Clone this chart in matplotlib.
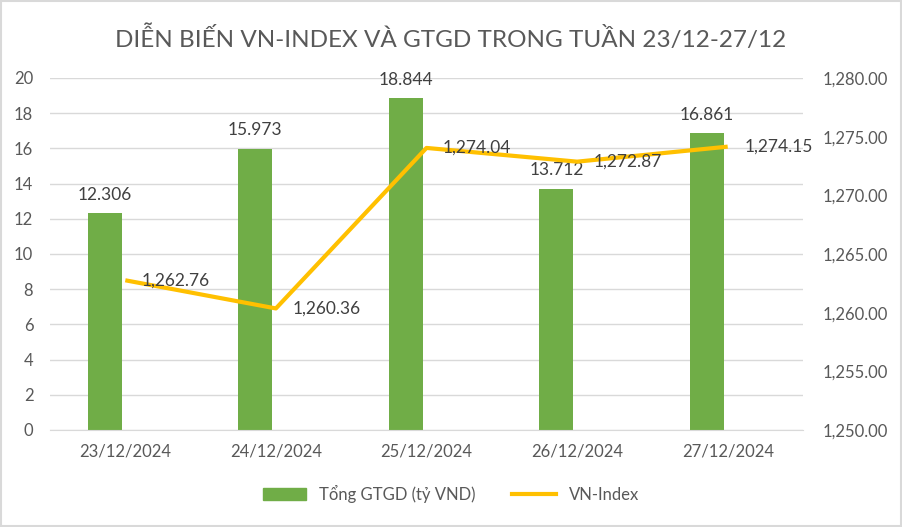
import matplotlib
matplotlib.use("Agg")
import matplotlib.pyplot as plt
from matplotlib.patches import Rectangle
import numpy as np

plt.rcParams["font.family"] = ["Lato", "DejaVu Sans"]

# Dữ liệu
ngay = ["23/12/2024", "24/12/2024", "25/12/2024", "26/12/2024", "27/12/2024"]
gtgd = [12.306, 15.973, 18.844, 13.712, 16.861]
vn_index = [1262.76, 1260.36, 1274.04, 1272.87, 1274.15]

XAM = "#595959"
XANH = "#70AD47"
VANG = "#FFC000"
LUOI = "#D9D9D9"

fig = plt.figure(figsize=(9.02, 5.27), dpi=100)
ax = fig.add_axes([50 / 902, 1 - 430 / 527, 753 / 902, 352 / 527])
ax2 = ax.twinx()

x = np.arange(len(ngay))
bars = ax.bar(x - 0.137, gtgd, width=0.226, color=XANH, zorder=2)
for b, v in zip(bars, gtgd):
    ax.text(b.get_x() + b.get_width() / 2, v + 0.6, f"{v:.3f}",
            ha="center", va="bottom", fontsize=12.5, color="#404040")

ax2.plot(x, vn_index, color=VANG, linewidth=3, solid_capstyle="butt", zorder=3)
for xi, v in zip(x, vn_index):
    ax2.text(xi + 0.11, v, f"{v:,.2f}", ha="left", va="center",
             fontsize=12.5, color="#404040")

ax.set_xlim(-0.5, len(ngay) - 0.5)
ax.set_ylim(0, 20)
ax.set_yticks(range(0, 21, 2))
ax2.set_ylim(1250, 1280)
ax2.set_yticks(range(1250, 1281, 5))
ax2.set_yticklabels([f"{t:,.2f}" for t in range(1250, 1281, 5)])

ax.set_xticks(x)
ax.set_xticklabels(ngay)
ax.grid(axis="y", color=LUOI, linewidth=1, zorder=0)
ax.set_axisbelow(True)

for a in (ax, ax2):
    for s in a.spines.values():
        s.set_visible(False)
    a.tick_params(length=0, labelsize=12, labelcolor=XAM)
ax.spines["bottom"].set_visible(True)
ax.spines["bottom"].set_color(LUOI)
ax.tick_params(axis="x", pad=10)
ax.tick_params(axis="y", pad=12)
ax2.tick_params(axis="y", pad=14)

fig.suptitle("DIỄN BIẾN VN-INDEX VÀ GTGD TRONG TUẦN 23/12-27/12",
             y=1 - 38 / 527, va="center", fontsize=17.5, color=XAM)

h1 = Rectangle((0, 0), 1, 1, color=XANH)
h2, = ax2.plot([], [], color=VANG, linewidth=3)
fig.legend([h1, h2], ["Tổng GTGD (tỷ VND)", "VN-Index"], loc="center",
           bbox_to_anchor=(451 / 902, 1 - 494 / 527), ncol=2, frameon=False,
           fontsize=12, labelcolor=XAM, handlelength=2.6, handleheight=0.7,
           columnspacing=2.2)

fig.add_artist(Rectangle((0.001, 0.001), 0.998, 0.997, transform=fig.transFigure,
                         fill=False, edgecolor=LUOI, linewidth=1.5))

fig.savefig("out.png", dpi=100)
